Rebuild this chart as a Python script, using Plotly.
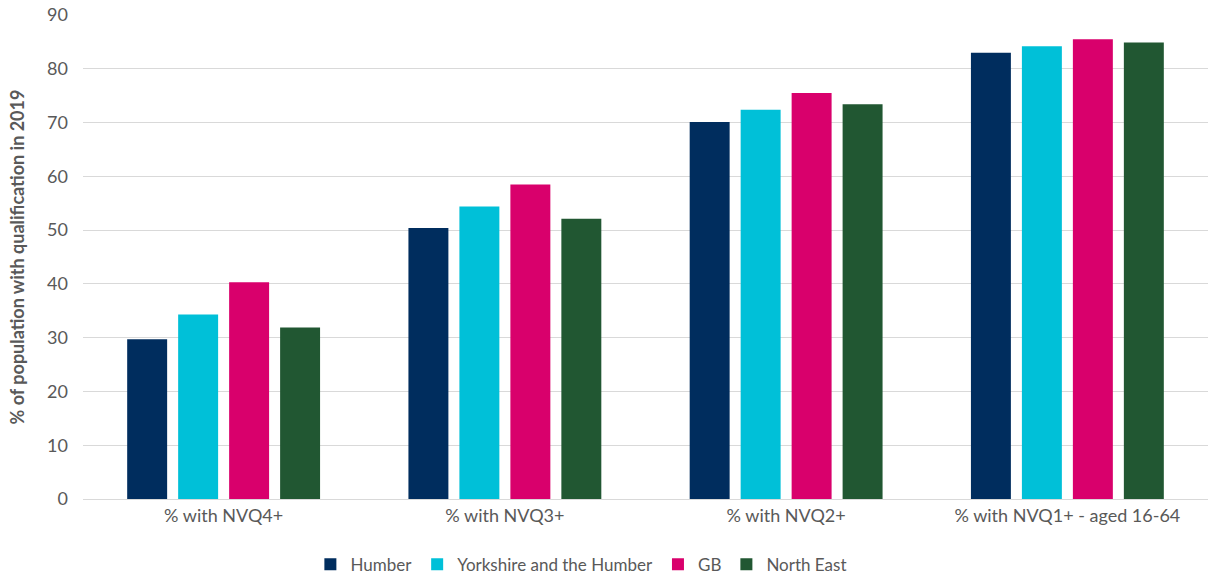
import plotly.graph_objects as go

categories = ["% with NVQ4+", "% with NVQ3+", "% with NVQ2+", "% with NVQ1+ - aged 16-64"]
humber = [29.7, 50.4, 70.1, 83.0]
yorkshire = [34.3, 54.4, 72.4, 84.2]
gb = [40.3, 58.5, 75.5, 85.5]
north_east = [31.9, 52.1, 73.4, 84.9]

series = [
    ("Humber", humber, "#002D5E"),
    ("Yorkshire and the Humber", yorkshire, "#00C0D8"),
    ("GB", gb, "#D9006C"),
    ("North East", north_east, "#215732"),
]

fig = go.Figure()
for name, vals, col in series:
    fig.add_trace(go.Bar(
        x=categories, y=vals, name=name,
        marker=dict(color=col, line=dict(width=0)),
    ))

font_family = "Lato, 'Open Sans', sans-serif"
fig.update_layout(
    width=1208, height=577,
    margin=dict(l=83, r=0, t=15, b=78, autoexpand=False),
    paper_bgcolor="white", plot_bgcolor="white",
    barmode="group", bargap=0.275, bargroupgap=0.216,
    font=dict(family=font_family, color="#595959"),
    legend=dict(
        orientation="h", x=0.443, xanchor="center", y=-0.136, yanchor="middle",
        font=dict(size=17, color="#595959"), traceorder="normal",
        itemwidth=30,
    ),
    xaxis=dict(
        showgrid=False, showline=True, linecolor="#D9D9D9", linewidth=1,
        tickfont=dict(size=18, color="#595959"), ticks="", automargin=False,
    ),
    yaxis=dict(
        range=[0, 90], dtick=10, showgrid=True, gridcolor="#D9D9D9", gridwidth=1,
        zeroline=False, showline=False, ticks="", automargin=False,
        tickfont=dict(size=18, color="#595959"),
        ticklabelstandoff=14,
        title=dict(text="<b>% of population with qualification in 2019</b>",
                   font=dict(size=18, color="#595959"), standoff=17),
    ),
)

fig.write_html("out.html")
